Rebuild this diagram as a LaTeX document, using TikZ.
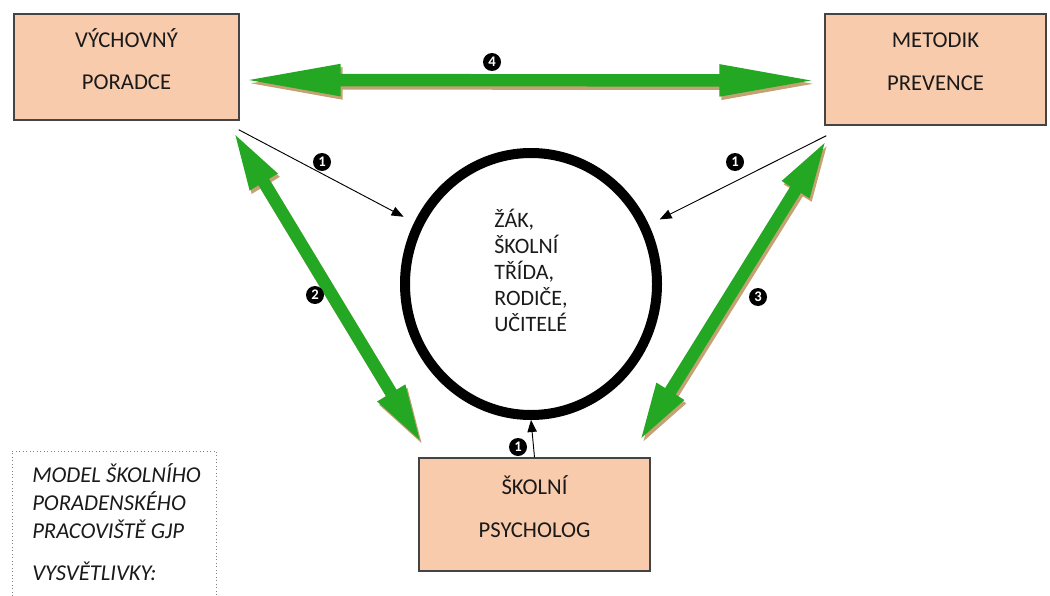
\documentclass[tikz,border=0pt]{standalone}
\usepackage{fontspec}
\setmainfont{Carlito}
\usetikzlibrary{arrows.meta,shapes.geometric,calc}
\definecolor{peach}{HTML}{F8CBAD}
\definecolor{arrowgreen}{HTML}{24A824}
\definecolor{shadowtan}{HTML}{C4A273}
\definecolor{boxedge}{HTML}{444444}
\definecolor{textgray}{HTML}{1A1A1A}
\tikzset{
  rolebox/.style={draw=boxedge, line width=1.1pt, fill=peach, align=center, text=textgray,
    text depth=12pt, font=\fontsize{17}{32}\selectfont},
  num/.style={circle, fill=black, text=white, inner sep=0pt, minimum size=13.5pt,
    font=\bfseries\fontsize{11}{11}\selectfont},
  bigarrow/.style={line width=9.3pt, draw=arrowgreen,
    {Triangle[length=#1,width=21.5pt]}-{Triangle[length=#1,width=21.5pt]}},
  arrowshadow/.style={bigarrow=#1, draw=shadowtan},
  thinarrow/.style={draw=black, line width=0.7pt, -{Triangle[length=9pt,width=7pt]}}
}
\begin{document}
\begin{tikzpicture}[x=0.75pt, y=-0.75pt]
  \useasboundingbox (0,0) rectangle (1050,596);
  % three workers and the centre
  \node[rolebox, minimum width=168.75pt, minimum height=79.5pt] (vp) at (126.5,67) {VÝCHOVNÝ\\PORADCE};
  \node[rolebox, minimum width=165.75pt, minimum height=83.25pt] (mp) at (935.5,69.5) {METODIK\\PREVENCE};
  \node[rolebox, minimum width=173.25pt, minimum height=84.75pt] (sp) at (534.5,514.5) {ŠKOLNÍ\\PSYCHOLOG};
  \node[draw, ellipse, line width=7.5pt, minimum width=189pt, minimum height=196.5pt, align=left,
    text=textgray, text depth=21pt, font=\fontsize{16.5}{19.5}\selectfont] (zak) at (531,284)
    {ŽÁK,\\ŠKOLNÍ\\TŘÍDA,\\RODIČE,\\UČITELÉ};

  \coordinate (a4s) at ($(vp.east)+(1,13)$);
  \coordinate (a4e) at ($(mp.west)+(-5,11)$);
  \coordinate (a2s) at ($(vp.south east)+(-7,10)$);
  \coordinate (a2e) at ($(sp.north west)+(4,-13)$);
  \coordinate (a3s) at ($(mp.south west)+(3,13)$);
  \coordinate (a3e) at ($(sp.north east)+(-12,-15)$);

  % shadows, then green double arrows
  \begin{scope}[transform canvas={xshift=1.5pt,yshift=-2.5pt}]
    \draw[arrowshadow=75pt] (a4s) -- (a4e);
    \draw[arrowshadow=45pt] (a2s) -- (a2e);
    \draw[arrowshadow=45pt] (a3s) -- (a3e);
  \end{scope}
  \draw[bigarrow=75pt] (a4s) -- (a4e);
  \draw[bigarrow=45pt] (a2s) -- (a2e);
  \draw[bigarrow=45pt] (a3s) -- (a3e);

  % thin arrows to the centre
  \draw[thinarrow, shorten >=9pt] ($(vp.south east)+(-1,9)$) -- (zak);
  \draw[thinarrow, shorten >=9pt] ($(mp.south west)+(2,10)$) -- (zak);
  \draw[thinarrow] (sp.north) -- (zak.south);

  % numbers
  \node[num] (n1a) at (322,162) {1};
  \node[num] (n1b) at (735,162) {1};
  \node[num] (n1c) at (518,447) {1};
  \node[num] (n2) at (315,295) {2};
  \node[num] (n3) at (758,297) {3};
  \node[num] (n4) at (492,62) {4};

  % legend
  \draw[gray, dotted, line width=0.6pt] (12,610) |- (216,451) -- (216,610);
  \node[anchor=north west, align=left, inner sep=0pt, text=textgray,
    font=\itshape\fontsize{17}{21}\selectfont] (legend) at (32,463)
    {MODEL ŠKOLNÍHO\\PORADENSKÉHO\\PRACOVIŠTĚ GJP\\[10.5pt]VYSVĚTLIVKY:};
\end{tikzpicture}
\end{document}
